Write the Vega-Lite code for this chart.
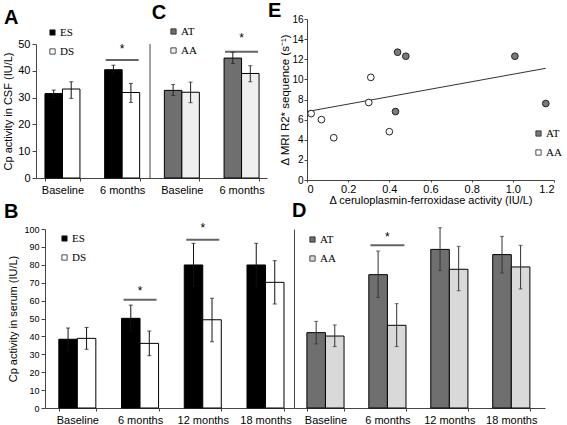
{
  "$schema": "https://vega.github.io/schema/vega-lite/v6.json",
  "background": "white",
  "padding": {"left": 2, "top": 1, "right": 2, "bottom": 2},
  "config": {
    "view": {"stroke": null},
    "title": {"anchor": "start", "frame": "group", "offset": 0, "font": "Liberation Sans", "fontSize": 20, "fontWeight": "bold", "color": "black"},
    "axis": {"labelFont": "Liberation Sans", "titleFont": "Liberation Sans", "labelFontSize": 11, "titleFontSize": 11, "titleFontWeight": "normal", "labelColor": "black", "titleColor": "black", "domain": true, "ticks": true, "domainColor": "#444444", "domainWidth": 1, "domainOpacity": 1, "tickColor": "#444444", "tickWidth": 1, "tickOpacity": 1, "grid": false, "labelPadding": 2},
    "axisX": {"labelAngle": 0},
    "legend": {"labelFont": "Liberation Serif", "labelFontSize": 11, "labelColor": "black", "symbolType": "square", "symbolSize": 28, "symbolStrokeColor": "#222", "symbolStrokeWidth": 0.8, "rowPadding": 7, "labelOffset": 2, "padding": 0}
  },
  "resolve": {"scale": {"color": "independent", "xOffset": "independent"}, "legend": {"color": "independent"}},
  "spacing": -4,
  "vconcat": [
    {
      "spacing": -8,
      "resolve": {"scale": {"color": "independent", "xOffset": "independent"}, "legend": {"color": "independent"}},
      "hconcat": [
        {
          "width": 222, "height": 159,
          "title": {"text": "A", "dx": -41, "dy": 29},
          "resolve": {"scale": {"color": "independent", "xOffset": "independent"}, "legend": {"color": "independent"}},
          "encoding": {
            "x": {"field": "slot", "type": "nominal", "scale": {"domain": ["A|Baseline", "A|6 months", "C|Baseline", "C|6 months"], "range": [-9, 222], "paddingInner": 0.414, "paddingOuter": 0.1417, "align": 0.53}, "axis": {"title": null, "labelExpr": "split(datum.label, '|')[1]", "tickBand": "extent", "tickSize": 3, "labelPadding": 3}}
          },
          "layer": [
            {"data": {"values": [
                {"slot": "A|Baseline", "group": "ES", "value": 31.5, "lo": 30.0, "hi": 32.8},
                {"slot": "A|Baseline", "group": "DS", "value": 33.2, "lo": 29.7, "hi": 35.9},
                {"slot": "A|6 months", "group": "ES", "value": 40.4, "lo": 38.8, "hi": 42.1},
                {"slot": "A|6 months", "group": "DS", "value": 31.9, "lo": 28.2, "hi": 35.3}
              ]},
             "layer": [
              {"mark": {"type": "bar", "stroke": "black", "strokeWidth": 1},
               "encoding": {
                 "xOffset": {"field": "group", "type": "nominal", "scale": {"domain": ["ES", "DS"], "paddingInner": 0, "paddingOuter": 0}},
                 "y": {"field": "value", "type": "quantitative", "scale": {"domain": [0, 50], "range": [159, 25], "nice": false, "zero": false}, "axis": {"title": "Cp activity in CSF (IU/L)", "values": [0, 10, 20, 30, 40, 50], "offset": 9, "tickSize": 4, "labelPadding": 2, "titlePadding": 4}},
                 "color": {"field": "group", "type": "nominal", "scale": {"domain": ["ES", "DS"], "range": ["black", "white"]}, "legend": {"title": null, "orient": "none", "legendX": 2, "legendY": 8}}
               }},
              {"mark": {"type": "rule", "color": "#111"},
               "encoding": {
                 "xOffset": {"field": "group", "type": "nominal", "scale": {"domain": ["ES", "DS"], "paddingInner": 0, "paddingOuter": 0}},
                 "y": {"field": "lo", "type": "quantitative", "scale": {"domain": [0, 50], "range": [159, 25], "nice": false, "zero": false}, "axis": {"title": "Cp activity in CSF (IU/L)", "values": [0, 10, 20, 30, 40, 50], "offset": 9, "tickSize": 4, "labelPadding": 2, "titlePadding": 4}},
                 "y2": {"field": "hi"}
               }},
              {"mark": {"type": "tick", "color": "#111", "size": 4, "thickness": 1},
               "encoding": {
                 "xOffset": {"field": "group", "type": "nominal", "scale": {"domain": ["ES", "DS"], "paddingInner": 0, "paddingOuter": 0}},
                 "y": {"field": "lo", "type": "quantitative", "scale": {"domain": [0, 50], "range": [159, 25], "nice": false, "zero": false}, "axis": {"title": "Cp activity in CSF (IU/L)", "values": [0, 10, 20, 30, 40, 50], "offset": 9, "tickSize": 4, "labelPadding": 2, "titlePadding": 4}}
               }},
              {"mark": {"type": "tick", "color": "#111", "size": 4, "thickness": 1},
               "encoding": {
                 "xOffset": {"field": "group", "type": "nominal", "scale": {"domain": ["ES", "DS"], "paddingInner": 0, "paddingOuter": 0}},
                 "y": {"field": "hi", "type": "quantitative", "scale": {"domain": [0, 50], "range": [159, 25], "nice": false, "zero": false}, "axis": {"title": "Cp activity in CSF (IU/L)", "values": [0, 10, 20, 30, 40, 50], "offset": 9, "tickSize": 4, "labelPadding": 2, "titlePadding": 4}}
               }}
             ],
             "resolve": {"scale": {"xOffset": "shared"}}
            },
            {"data": {"values": [
                {"slot": "C|Baseline", "group": "AT", "value": 32.7, "lo": 30.8, "hi": 34.9},
                {"slot": "C|Baseline", "group": "AA", "value": 32.0, "lo": 28.1, "hi": 35.8},
                {"slot": "C|6 months", "group": "AT", "value": 44.75, "lo": 42.75, "hi": 46.9},
                {"slot": "C|6 months", "group": "AA", "value": 39.0, "lo": 35.9, "hi": 41.9}
              ]},
             "layer": [
              {"mark": {"type": "bar", "stroke": "black", "strokeWidth": 1},
               "encoding": {
                 "xOffset": {"field": "group", "type": "nominal", "scale": {"domain": ["AT", "AA"], "paddingInner": 0, "paddingOuter": 0}},
                 "y": {"field": "value", "type": "quantitative", "scale": {"domain": [0, 50], "range": [159, 25], "nice": false, "zero": false}, "axis": {"title": "Cp activity in CSF (IU/L)", "values": [0, 10, 20, 30, 40, 50], "offset": 9, "tickSize": 4, "labelPadding": 2, "titlePadding": 4}},
                 "color": {"field": "group", "type": "nominal", "scale": {"domain": ["AT", "AA"], "range": ["#6f6f6f", "#efefef"]}, "legend": {"title": null, "orient": "none", "legendX": 123, "legendY": 7}}
               }},
              {"mark": {"type": "rule", "color": "#222"},
               "encoding": {
                 "xOffset": {"field": "group", "type": "nominal", "scale": {"domain": ["AT", "AA"], "paddingInner": 0, "paddingOuter": 0}},
                 "y": {"field": "lo", "type": "quantitative", "scale": {"domain": [0, 50], "range": [159, 25], "nice": false, "zero": false}, "axis": {"title": "Cp activity in CSF (IU/L)", "values": [0, 10, 20, 30, 40, 50], "offset": 9, "tickSize": 4, "labelPadding": 2, "titlePadding": 4}},
                 "y2": {"field": "hi"}
               }},
              {"mark": {"type": "tick", "color": "#222", "size": 4, "thickness": 1},
               "encoding": {
                 "xOffset": {"field": "group", "type": "nominal", "scale": {"domain": ["AT", "AA"], "paddingInner": 0, "paddingOuter": 0}},
                 "y": {"field": "lo", "type": "quantitative", "scale": {"domain": [0, 50], "range": [159, 25], "nice": false, "zero": false}, "axis": {"title": "Cp activity in CSF (IU/L)", "values": [0, 10, 20, 30, 40, 50], "offset": 9, "tickSize": 4, "labelPadding": 2, "titlePadding": 4}}
               }},
              {"mark": {"type": "tick", "color": "#222", "size": 4, "thickness": 1},
               "encoding": {
                 "xOffset": {"field": "group", "type": "nominal", "scale": {"domain": ["AT", "AA"], "paddingInner": 0, "paddingOuter": 0}},
                 "y": {"field": "hi", "type": "quantitative", "scale": {"domain": [0, 50], "range": [159, 25], "nice": false, "zero": false}, "axis": {"title": "Cp activity in CSF (IU/L)", "values": [0, 10, 20, 30, 40, 50], "offset": 9, "tickSize": 4, "labelPadding": 2, "titlePadding": 4}}
               }}
             ],
             "resolve": {"scale": {"xOffset": "shared"}}
            },
            {"data": {"values": [{"slot": "A|6 months", "line": 44.0, "star": 48.1, "sig": "*"}, {"slot": "C|6 months", "line": 47.1, "star": 52.2, "sig": "*"}]},
             "layer": [
              {"mark": {"type": "tick", "color": "#222", "size": 33, "thickness": 2},
               "encoding": {"y": {"field": "line", "type": "quantitative", "scale": {"domain": [0, 50], "range": [159, 25], "nice": false, "zero": false}, "axis": {"title": "Cp activity in CSF (IU/L)", "values": [0, 10, 20, 30, 40, 50], "offset": 9, "tickSize": 4, "labelPadding": 2, "titlePadding": 4}}}},
              {"mark": {"type": "text", "font": "Liberation Sans", "fontSize": 12, "baseline": "middle", "color": "black"},
               "encoding": {"y": {"field": "star", "type": "quantitative", "scale": {"domain": [0, 50], "range": [159, 25], "nice": false, "zero": false}, "axis": {"title": "Cp activity in CSF (IU/L)", "values": [0, 10, 20, 30, 40, 50], "offset": 9, "tickSize": 4, "labelPadding": 2, "titlePadding": 4}}, "text": {"field": "sig"}}}
             ]
            },
            {"data": {"values": [{"slot": "C|Baseline", "lo": 0, "hi": 50}]},
             "mark": {"type": "rule", "color": "#444444", "strokeWidth": 1},
             "encoding": {
               "x": {"field": "slot", "type": "nominal", "bandPosition": -0.41, "axis": {"title": null, "labelExpr": "split(datum.label, '|')[1]", "tickBand": "extent", "tickSize": 3, "labelPadding": 3}},
               "y": {"field": "lo", "type": "quantitative", "scale": {"domain": [0, 50], "range": [159, 25], "nice": false, "zero": false}, "axis": {"title": "Cp activity in CSF (IU/L)", "values": [0, 10, 20, 30, 40, 50], "offset": 9, "tickSize": 4, "labelPadding": 2, "titlePadding": 4}},
               "y2": {"field": "hi"}
             }},
            {"data": {"values": [{"slot": "C|Baseline", "yv": 59.3, "letter": "C"}]},
             "mark": {"type": "text", "font": "Liberation Sans", "fontSize": 20, "fontWeight": "bold", "align": "left", "baseline": "alphabetic", "color": "black"},
             "encoding": {
               "x": {"field": "slot", "type": "nominal", "bandPosition": -0.36, "axis": {"title": null, "labelExpr": "split(datum.label, '|')[1]", "tickBand": "extent", "tickSize": 3, "labelPadding": 3}},
               "y": {"field": "yv", "type": "quantitative", "scale": {"domain": [0, 50], "range": [159, 25], "nice": false, "zero": false}, "axis": {"title": "Cp activity in CSF (IU/L)", "values": [0, 10, 20, 30, 40, 50], "offset": 9, "tickSize": 4, "labelPadding": 2, "titlePadding": 4}},
               "text": {"field": "letter"}
             }}
          ]
        },
        {
          "width": 247, "height": 161,
          "title": {"text": "E", "dx": -39, "dy": 11},
          "encoding": {
            "x": {"field": "dx", "type": "quantitative", "scale": {"domain": [0, 1.2], "nice": false, "zero": false}, "axis": {"title": "Δ ceruloplasmin-ferroxidase activity (IU/L)", "values": [0, 0.2, 0.4, 0.6, 0.8, 1.0, 1.2], "labelExpr": "datum.value == 0 ? '0' : format(datum.value, '.1f')", "tickSize": 2, "labelPadding": 1, "titlePadding": 0}},
            "y": {"field": "dy", "type": "quantitative", "scale": {"domain": [0, 16], "nice": false, "zero": false}, "axis": {"title": "Δ MRI R2* sequence (s⁻¹)", "titleFontSize": 11.5, "labelFontSize": 10, "values": [0, 2, 4, 6, 8, 10, 12, 14, 16], "tickSize": 3, "labelPadding": 1, "titlePadding": 1}}
          },
          "layer": [
            {"data": {"values": [{"dx": 0.0, "dy": 6.8}, {"dx": 1.16, "dy": 11.1}]},
             "mark": {"type": "line", "color": "#333", "strokeWidth": 1}},
            {"data": {"values": [
              {"dx": 0.02, "dy": 6.6, "group": "AA"},
              {"dx": 0.07, "dy": 6.0, "group": "AA"},
              {"dx": 0.13, "dy": 4.2, "group": "AA"},
              {"dx": 0.30, "dy": 7.7, "group": "AA"},
              {"dx": 0.31, "dy": 10.2, "group": "AA"},
              {"dx": 0.40, "dy": 4.8, "group": "AA"},
              {"dx": 0.43, "dy": 6.8, "group": "AT"},
              {"dx": 0.44, "dy": 12.7, "group": "AT"},
              {"dx": 0.48, "dy": 12.3, "group": "AT"},
              {"dx": 1.01, "dy": 12.3, "group": "AT"},
              {"dx": 1.16, "dy": 7.6, "group": "AT"}
            ]},
             "mark": {"type": "circle", "size": 45, "stroke": "#222", "strokeWidth": 1, "opacity": 1},
             "encoding": {
               "color": {"field": "group", "type": "nominal", "scale": {"domain": ["AT", "AA"], "range": ["#7a7a7a", "white"]}, "legend": {"title": null, "orient": "none", "legendX": 226, "legendY": 109, "symbolType": "square"}}
             }}
          ]
        }
      ]
    },
    {
      "spacing": -3,
      "resolve": {"scale": {"color": "independent", "xOffset": "independent"}, "legend": {"color": "independent"}},
      "hconcat": [
        {
          "width": 249, "height": 179,
          "title": {"text": "B", "dx": -41, "dy": 4},
          "data": {"values": [
            {"time": "Baseline", "group": "ES", "value": 38.4, "lo": 31.8, "hi": 44.7},
            {"time": "Baseline", "group": "DS", "value": 38.9, "lo": 32.8, "hi": 45.0},
            {"time": "6 months", "group": "ES", "value": 50.1, "lo": 42.8, "hi": 57.5},
            {"time": "6 months", "group": "DS", "value": 36.1, "lo": 29.2, "hi": 43.0},
            {"time": "12 months", "group": "ES", "value": 79.9, "lo": 68.0, "hi": 92.0},
            {"time": "12 months", "group": "DS", "value": 49.3, "lo": 37.0, "hi": 61.3},
            {"time": "18 months", "group": "ES", "value": 79.9, "lo": 68.0, "hi": 92.0},
            {"time": "18 months", "group": "DS", "value": 70.2, "lo": 58.1, "hi": 82.3}
          ]},
          "encoding": {
            "x": {"field": "time", "type": "nominal", "scale": {"domain": ["Baseline", "6 months", "12 months", "18 months"], "paddingInner": 0.41, "paddingOuter": 0.19, "align": 0.58}, "axis": {"title": null, "tickBand": "extent", "tickSize": 3, "labelPadding": 3}}
          },
          "layer": [
            {"mark": {"type": "bar", "stroke": "black", "strokeWidth": 1},
             "encoding": {
               "xOffset": {"field": "group", "type": "nominal", "scale": {"domain": ["ES", "DS"], "paddingInner": 0, "paddingOuter": 0}},
               "y": {"field": "value", "type": "quantitative", "scale": {"domain": [0, 100], "nice": false, "zero": false}, "axis": {"title": "Cp activity in serum (IU/L)", "values": [0, 10, 20, 30, 40, 50, 60, 70, 80, 90, 100], "labelFontSize": 9, "tickSize": 4, "labelPadding": 2, "titlePadding": 5}},
               "color": {"field": "group", "type": "nominal", "scale": {"domain": ["ES", "DS"], "range": ["black", "white"]}, "legend": {"title": null, "orient": "none", "legendX": 14, "legendY": 4}}
             }},
            {"mark": {"type": "rule", "color": "#111"},
             "encoding": {
               "xOffset": {"field": "group", "type": "nominal", "scale": {"domain": ["ES", "DS"], "paddingInner": 0, "paddingOuter": 0}},
               "y": {"field": "lo", "type": "quantitative", "scale": {"domain": [0, 100], "nice": false, "zero": false}, "axis": {"title": "Cp activity in serum (IU/L)", "values": [0, 10, 20, 30, 40, 50, 60, 70, 80, 90, 100], "labelFontSize": 9, "tickSize": 4, "labelPadding": 2, "titlePadding": 5}},
               "y2": {"field": "hi"}
             }},
            {"mark": {"type": "tick", "color": "#111", "size": 4, "thickness": 1},
             "encoding": {
               "xOffset": {"field": "group", "type": "nominal", "scale": {"domain": ["ES", "DS"], "paddingInner": 0, "paddingOuter": 0}},
               "y": {"field": "lo", "type": "quantitative", "scale": {"domain": [0, 100], "nice": false, "zero": false}, "axis": {"title": "Cp activity in serum (IU/L)", "values": [0, 10, 20, 30, 40, 50, 60, 70, 80, 90, 100], "labelFontSize": 9, "tickSize": 4, "labelPadding": 2, "titlePadding": 5}}
             }},
            {"mark": {"type": "tick", "color": "#111", "size": 4, "thickness": 1},
             "encoding": {
               "xOffset": {"field": "group", "type": "nominal", "scale": {"domain": ["ES", "DS"], "paddingInner": 0, "paddingOuter": 0}},
               "y": {"field": "hi", "type": "quantitative", "scale": {"domain": [0, 100], "nice": false, "zero": false}, "axis": {"title": "Cp activity in serum (IU/L)", "values": [0, 10, 20, 30, 40, 50, 60, 70, 80, 90, 100], "labelFontSize": 9, "tickSize": 4, "labelPadding": 2, "titlePadding": 5}}
             }},
            {"data": {"values": [{"time": "6 months", "line": 60.5, "star": 65.5, "sig": "*"}, {"time": "12 months", "line": 94.0, "star": 100.5, "sig": "*"}]},
             "mark": {"type": "tick", "color": "#222", "size": 33, "thickness": 2},
             "encoding": {"y": {"field": "line", "type": "quantitative", "scale": {"domain": [0, 100], "nice": false, "zero": false}, "axis": {"title": "Cp activity in serum (IU/L)", "values": [0, 10, 20, 30, 40, 50, 60, 70, 80, 90, 100], "labelFontSize": 9, "tickSize": 4, "labelPadding": 2, "titlePadding": 5}}}},
            {"data": {"values": [{"time": "6 months", "line": 60.5, "star": 65.5, "sig": "*"}, {"time": "12 months", "line": 94.0, "star": 100.5, "sig": "*"}]},
             "mark": {"type": "text", "font": "Liberation Sans", "fontSize": 12, "baseline": "middle", "color": "black"},
             "encoding": {"y": {"field": "star", "type": "quantitative", "scale": {"domain": [0, 100], "nice": false, "zero": false}, "axis": {"title": "Cp activity in serum (IU/L)", "values": [0, 10, 20, 30, 40, 50, 60, 70, 80, 90, 100], "labelFontSize": 9, "tickSize": 4, "labelPadding": 2, "titlePadding": 5}}, "text": {"field": "sig"}}}
          ]
        },
        {
          "width": 251, "height": 179,
          "title": {"text": "D", "dx": -2, "dy": -2},
          "data": {"values": [
            {"time": "Baseline", "group": "AT", "value": 42.1, "lo": 35.8, "hi": 48.4},
            {"time": "Baseline", "group": "AA", "value": 40.2, "lo": 34.3, "hi": 46.4},
            {"time": "6 months", "group": "AT", "value": 74.5, "lo": 61.8, "hi": 87.7},
            {"time": "6 months", "group": "AA", "value": 46.2, "lo": 34.3, "hi": 58.3},
            {"time": "12 months", "group": "AT", "value": 88.6, "lo": 76.9, "hi": 100.7},
            {"time": "12 months", "group": "AA", "value": 77.5, "lo": 65.5, "hi": 90.3},
            {"time": "18 months", "group": "AT", "value": 85.7, "lo": 75.4, "hi": 95.9},
            {"time": "18 months", "group": "AA", "value": 78.8, "lo": 66.5, "hi": 90.9}
          ]},
          "encoding": {
            "x": {"field": "time", "type": "nominal", "scale": {"domain": ["Baseline", "6 months", "12 months", "18 months"], "paddingInner": 0.4, "paddingOuter": 0.226, "align": 0.46}, "axis": {"title": null, "tickBand": "extent", "tickSize": 3, "labelPadding": 3}}
          },
          "layer": [
            {"mark": {"type": "bar", "stroke": "black", "strokeWidth": 1},
             "encoding": {
               "xOffset": {"field": "group", "type": "nominal", "scale": {"domain": ["AT", "AA"], "paddingInner": 0, "paddingOuter": 0}},
               "y": {"field": "value", "type": "quantitative", "scale": {"domain": [0, 100], "nice": false, "zero": false}, "axis": {"title": null, "labels": false, "ticks": false}},
               "color": {"field": "group", "type": "nominal", "scale": {"domain": ["AT", "AA"], "range": ["#6f6f6f", "#d9d9d9"]}, "legend": {"title": null, "orient": "none", "legendX": 13, "legendY": 5}}
             }},
            {"mark": {"type": "rule", "color": "#333"},
             "encoding": {
               "xOffset": {"field": "group", "type": "nominal", "scale": {"domain": ["AT", "AA"], "paddingInner": 0, "paddingOuter": 0}},
               "y": {"field": "lo", "type": "quantitative", "scale": {"domain": [0, 100], "nice": false, "zero": false}, "axis": {"title": null, "labels": false, "ticks": false}},
               "y2": {"field": "hi"}
             }},
            {"mark": {"type": "tick", "color": "#333", "size": 4, "thickness": 1},
             "encoding": {
               "xOffset": {"field": "group", "type": "nominal", "scale": {"domain": ["AT", "AA"], "paddingInner": 0, "paddingOuter": 0}},
               "y": {"field": "lo", "type": "quantitative", "scale": {"domain": [0, 100], "nice": false, "zero": false}, "axis": {"title": null, "labels": false, "ticks": false}}
             }},
            {"mark": {"type": "tick", "color": "#333", "size": 4, "thickness": 1},
             "encoding": {
               "xOffset": {"field": "group", "type": "nominal", "scale": {"domain": ["AT", "AA"], "paddingInner": 0, "paddingOuter": 0}},
               "y": {"field": "hi", "type": "quantitative", "scale": {"domain": [0, 100], "nice": false, "zero": false}, "axis": {"title": null, "labels": false, "ticks": false}}
             }},
            {"data": {"values": [{"time": "6 months", "line": 90.9, "star": 95.5, "sig": "*"}]},
             "mark": {"type": "tick", "color": "#222", "size": 34, "thickness": 2},
             "encoding": {"y": {"field": "line", "type": "quantitative", "scale": {"domain": [0, 100], "nice": false, "zero": false}, "axis": {"title": null, "labels": false, "ticks": false}}}},
            {"data": {"values": [{"time": "6 months", "line": 90.9, "star": 95.5, "sig": "*"}]},
             "mark": {"type": "text", "font": "Liberation Sans", "fontSize": 12, "baseline": "middle", "color": "black"},
             "encoding": {"y": {"field": "star", "type": "quantitative", "scale": {"domain": [0, 100], "nice": false, "zero": false}, "axis": {"title": null, "labels": false, "ticks": false}}, "text": {"field": "sig"}}}
          ]
        }
      ]
    }
  ]
}
